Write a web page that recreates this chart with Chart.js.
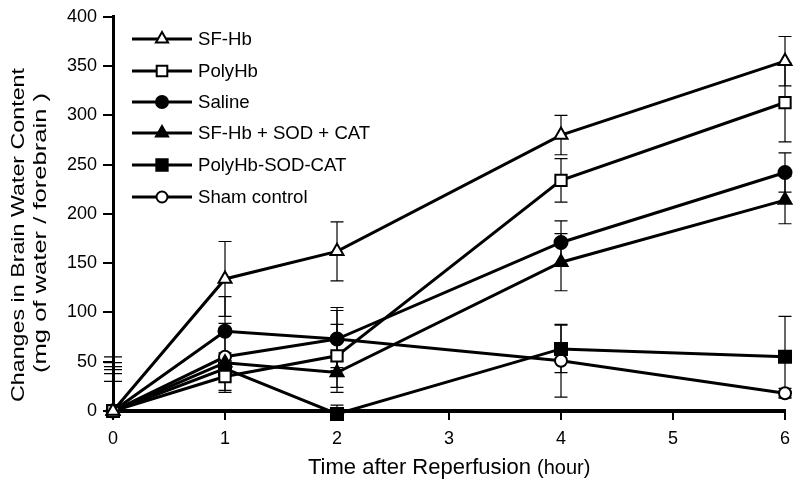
<!DOCTYPE html>
<html>
<head>
<meta charset="utf-8">
<script src="https://cdn.jsdelivr.net/npm/chart.js@4.4.1/dist/chart.umd.min.js"></script>
<style>
  html, body { margin: 0; padding: 0; background: #ffffff; }
  #wrap { width: 800px; height: 487px; }
</style>
</head>
<body>
<div id="wrap"><canvas id="c" width="800" height="487"></canvas></div>
<script>
// ---- data ----
const hours = [0, 1, 2, 4, 6];
const xTicks = [0, 1, 2, 3, 4, 5, 6];
const yTicks = [0, 50, 100, 150, 200, 250, 300, 350, 400];

const seriesNames = ['SF-Hb', 'PolyHb', 'Saline', 'SF-Hb + SOD + CAT', 'PolyHb-SOD-CAT', 'Sham control'];

const sfHb         = [0, 134, 162, 280, 355];
const polyHb       = [0, 35, 56, 234, 313];
const saline       = [0, 81, 73, 171, 242];
const sfHbSodCat   = [0, 49, 39, 151, 214];
const polyHbSodCat = [0, 43, -3, 63, 55];
const sham         = [0, 55, 73, 51, 18];

const sfHbErr         = [55, 38, 30, 20, 25];
const polyHbErr       = [49, 16, 32, 22, 40];
const salineErr       = [45, 35, 32, 22, 20];
const sfHbSodCatErr   = [42, 10, 20, 29, 24];
const polyHbSodCatErr = [38, 8, 9, 24, 41];
const shamErr         = [30, 34, 29, 37, 5];

const xTitle = 'Time after Reperfusion';
const xTitleUnit = '(hour)';
const yTitle1 = 'Changes in Brain Water Content';
const yTitle2 = '(mg of water / forebrain )';

// ---- styling ----
const FONT = "'Liberation Sans', Arial, Helvetica, sans-serif";
const seriesValues = [sfHb, polyHb, saline, sfHbSodCat, polyHbSodCat, sham];
const seriesErrors = [sfHbErr, polyHbErr, salineErr, sfHbSodCatErr, polyHbSodCatErr, shamErr];
const styles = [
  { pointStyle: 'triangle', fill: '#ffffff', radius: 7.5 },
  { pointStyle: 'rect',     fill: '#ffffff', radius: 8 },
  { pointStyle: 'circle',   fill: '#000000', radius: 6.5 },
  { pointStyle: 'triangle', fill: '#000000', radius: 7.5 },
  { pointStyle: 'rect',     fill: '#000000', radius: 8.5 },
  { pointStyle: 'circle',   fill: '#ffffff', radius: 6 }
];

const datasets = seriesNames.map((name, i) => ({
  label: name,
  data: hours.map((h, j) => ({ x: h, y: seriesValues[i][j] })),
  borderColor: '#000000',
  borderWidth: 3,
  backgroundColor: styles[i].fill,
  pointStyle: styles[i].pointStyle,
  pointRadius: styles[i].radius,
  pointBackgroundColor: styles[i].fill,
  pointBorderColor: '#000000',
  pointBorderWidth: 2,
  tension: 0,
  fill: false,
  clip: false
}));

// error bars
const errorBarPlugin = {
  id: 'errorBars',
  beforeDatasetsDraw(chart) {
    const ctx = chart.ctx;
    const xs = chart.scales.x, ys = chart.scales.y;
    const area = chart.chartArea;
    ctx.save();
    ctx.beginPath();
    ctx.rect(0, area.top - 6, chart.width, area.bottom - area.top + 6);
    ctx.clip();
    ctx.strokeStyle = '#000000';
    ctx.lineWidth = 1.2;
    seriesValues.forEach((vals, i) => {
      vals.forEach((v, j) => {
        const e = seriesErrors[i][j];
        const px = xs.getPixelForValue(hours[j]);
        const top = ys.getPixelForValue(v + e);
        const bot = ys.getPixelForValue(v - e);
        const capHalf = j === 0 ? 9 : 6.5;
        ctx.beginPath();
        ctx.moveTo(px, top); ctx.lineTo(px, bot);
        ctx.moveTo(px - capHalf, top); ctx.lineTo(px + capHalf, top);
        ctx.moveTo(px - capHalf, bot); ctx.lineTo(px + capHalf, bot);
        ctx.stroke();
      });
    });
    ctx.restore();
  }
};

function drawMarker(ctx, style, radius, x, y) {
  ctx.save();
  ctx.fillStyle = style.fill;
  ctx.strokeStyle = '#000000';
  ctx.lineWidth = 2;
  if (Chart.helpers && Chart.helpers.drawPoint) {
    Chart.helpers.drawPoint(ctx, { pointStyle: style.pointStyle, radius: radius, rotation: 0, borderWidth: 2 }, x, y);
  } else {
    ctx.beginPath();
    if (style.pointStyle === 'circle') {
      ctx.arc(x, y, radius, 0, Math.PI * 2);
    } else if (style.pointStyle === 'rect') {
      const s = radius * Math.SQRT1_2;
      ctx.rect(x - s, y - s, 2 * s, 2 * s);
    } else {
      ctx.moveTo(x, y - radius);
      ctx.lineTo(x + radius * 0.866, y + radius / 2);
      ctx.lineTo(x - radius * 0.866, y + radius / 2);
      ctx.closePath();
    }
    ctx.fill(); ctx.stroke();
  }
  ctx.restore();
}

// legend + axis titles
const decorPlugin = {
  id: 'decor',
  afterDraw(chart) {
    const ctx = chart.ctx;
    // legend
    const rows = [39, 71, 102, 133, 165, 197];
    ctx.save();
    seriesNames.forEach((name, i) => {
      const y = rows[i];
      ctx.strokeStyle = '#000000';
      ctx.lineWidth = 3;
      ctx.beginPath();
      ctx.moveTo(132, y); ctx.lineTo(192, y);
      ctx.stroke();
      drawMarker(ctx, styles[i], styles[i].radius - 0.5, 162, y);
      ctx.fillStyle = '#000000';
      ctx.font = '18.6px ' + FONT;
      ctx.textAlign = 'left';
      ctx.textBaseline = 'middle';
      ctx.fillText(name, 198, y + 1);
    });
    ctx.restore();

    // x title
    ctx.save();
    ctx.fillStyle = '#000000';
    ctx.textBaseline = 'alphabetic';
    ctx.textAlign = 'left';
    ctx.font = '22px ' + FONT;
    const w1 = ctx.measureText(xTitle + ' ').width;
    ctx.fillText(xTitle + ' ', 308, 474);
    ctx.font = '20px ' + FONT;
    ctx.fillText(xTitleUnit, 308 + w1, 474);
    ctx.restore();

    // y title (two rotated lines, stretched along the text like the reference)
    function rotLine(text, baseX, centerY, targetLen) {
      ctx.save();
      ctx.fillStyle = '#000000';
      ctx.font = '18px ' + FONT;
      ctx.textAlign = 'center';
      ctx.textBaseline = 'alphabetic';
      const w = ctx.measureText(text).width;
      ctx.translate(baseX, centerY);
      ctx.rotate(-Math.PI / 2);
      ctx.scale(targetLen / w, 1);
      ctx.fillText(text, 0, 0);
      ctx.restore();
    }
    rotLine(yTitle1, 24, 235, 334);
    rotLine(yTitle2, 46, 233, 280);
  }
};

new Chart(document.getElementById('c'), {
  type: 'line',
  data: { datasets },
  options: {
    responsive: false,
    devicePixelRatio: 1,
    animation: false,
    layout: { padding: { top: 16, right: 15, left: 0, bottom: 0 } },
    plugins: { legend: { display: false }, tooltip: { enabled: false }, title: { display: false } },
    scales: {
      x: {
        type: 'linear',
        min: 0, max: 6,
        afterBuildTicks(s) { s.ticks = xTicks.map(v => ({ value: v })); },
        afterFit(s) { s.height = 76; },
        ticks: { color: '#000000', font: { size: 18, family: FONT }, padding: 8 },
        grid: { drawOnChartArea: false, drawTicks: true, tickLength: 9, color: '#000000', lineWidth: 2 },
        border: { display: true, color: '#000000', width: 4 }
      },
      y: {
        type: 'linear',
        min: 0, max: 400,
        afterBuildTicks(s) { s.ticks = yTicks.map(v => ({ value: v })); },
        afterFit(s) { s.width = 113; },
        ticks: { color: '#000000', font: { size: 18, family: FONT }, padding: 6 },
        grid: { drawOnChartArea: false, drawTicks: true, tickLength: 10, color: '#000000', lineWidth: 2 },
        border: { display: true, color: '#000000', width: 3 }
      }
    }
  },
  plugins: [errorBarPlugin, decorPlugin]
});
</script>
</body>
</html>
